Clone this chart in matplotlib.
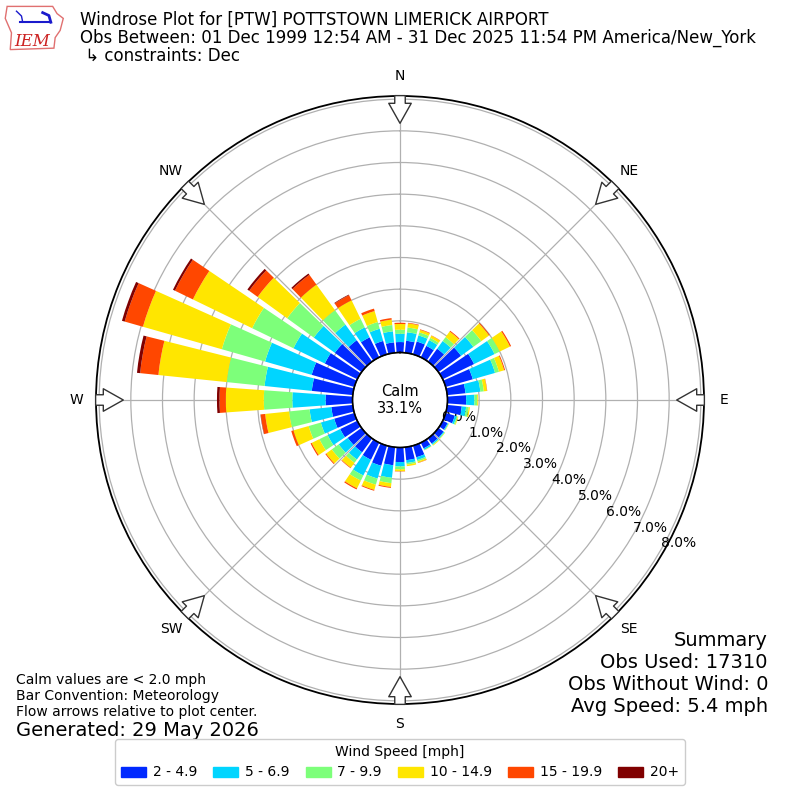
import numpy as np
import matplotlib
matplotlib.use('Agg')
from matplotlib import pyplot as plt
from matplotlib.patches import Patch, Polygon

# wind direction bins (deg from north) and % of obs per speed class
directions = np.arange(0, 360, 10)
speed_labels = ['2 - 4.9', '5 - 6.9', '7 - 9.9', '10 - 14.9', '15 - 19.9', '20+']

spd_2_5 = [0.33, 0.38, 0.42, 0.40, 0.50, 0.88, 1.10, 0.89, 0.58, 0.59, 0.46, 0.30,
           0.17, 0.20, 0.20, 0.20, 0.38, 0.41, 0.46, 0.57, 0.66, 0.60, 0.54, 0.54,
           0.60, 0.66, 0.68, 0.85, 1.30, 1.40, 1.14, 1.04, 0.83, 0.70, 0.44, 0.33]
spd_5_7 = [0.26, 0.27, 0.20, 0.20, 0.30, 0.48, 0.72, 0.73, 0.47, 0.26, 0.14, 0.06,
           0.03, 0.03, 0.04, 0.05, 0.09, 0.09, 0.14, 0.40, 0.42, 0.55, 0.28, 0.35,
           0.44, 0.44, 0.69, 1.05, 1.50, 1.53, 1.10, 0.82, 0.61, 0.35, 0.40, 0.35]
spd_7_10 = [0.13, 0.15, 0.10, 0.08, 0.15, 0.31, 0.18, 0.13, 0.11, 0.09, 0.08, 0.04,
            0.01, 0.02, 0.02, 0.01, 0.05, 0.05, 0.09, 0.17, 0.20, 0.18, 0.13, 0.27,
            0.29, 0.40, 0.65, 0.90, 1.20, 1.42, 1.45, 1.04, 0.56, 0.30, 0.22, 0.20]
spd_10_15 = [0.18, 0.13, 0.08, 0.08, 0.22, 0.30, 0.36, 0.17, 0.10, 0.03, 0.04, 0.02,
             0.01, 0.01, 0.02, 0.01, 0.04, 0.05, 0.06, 0.12, 0.17, 0.27, 0.19, 0.22,
             0.27, 0.50, 0.76, 1.20, 2.17, 2.59, 2.08, 1.15, 1.00, 0.65, 0.36, 0.17]
spd_15_20 = [0.04, 0.02, 0.02, 0.01, 0.03, 0.03, 0.04, 0.03, 0.01, 0.00, 0.00, 0.00,
             0.00, 0.00, 0.00, 0.00, 0.01, 0.00, 0.01, 0.03, 0.03, 0.04, 0.02, 0.03,
             0.04, 0.07, 0.14, 0.20, 0.58, 0.60, 0.63, 0.33, 0.38, 0.18, 0.08, 0.05]
spd_20p = [0.00, 0.00, 0.00, 0.00, 0.00, 0.00, 0.00, 0.00, 0.00, 0.00, 0.00, 0.00,
           0.00, 0.00, 0.00, 0.00, 0.00, 0.00, 0.00, 0.00, 0.00, 0.00, 0.00, 0.00,
           0.00, 0.00, 0.01, 0.08, 0.10, 0.09, 0.07, 0.07, 0.05, 0.02, 0.00, 0.00]
speed_bins = [spd_2_5, spd_5_7, spd_7_10, spd_10_15, spd_15_20, spd_20p]

calm_pct = 33.1
rmax = 8.1
rticks = [0, 1, 2, 3, 4, 5, 6, 7, 8]
compass = ['N', 'NE', 'E', 'SE', 'S', 'SW', 'W', 'NW']

colors = plt.cm.jet(np.arange(1, 7) / 6.)

fig = plt.figure(figsize=(8, 8), dpi=100)
ax = fig.add_axes([0.12, 0.12, 0.76, 0.76], projection='polar')
ax.set_theta_zero_location('N')
ax.set_theta_direction(-1)
ax.set_rorigin(-1.5)
ax.set_ylim(0, rmax)

theta = np.deg2rad(directions)
width = np.deg2rad(8.2)
bottom = np.zeros(len(directions))
for vals, col, lab in zip(speed_bins, colors, speed_labels):
    vals = np.array(vals)
    ax.bar(theta, vals, width=width, bottom=bottom, color=col, label=lab,
           edgecolor='none', zorder=3)
    bottom += vals

ax.set_yticks(rticks)
ax.set_yticklabels(['%.1f%%' % t for t in rticks], fontsize=10)
ax.set_rlabel_position(120)
ax.set_xticks(np.deg2rad(np.arange(0, 360, 45)))
ax.set_xticklabels([])
ax.grid(True, color='#b0b0b0', lw=0.9)
ax.spines['polar'].set_linewidth(1.3)

# calm circle edge
circ = np.linspace(0, 2 * np.pi, 361)
ax.plot(circ, np.zeros_like(circ), color='black', lw=1.2, zorder=4, clip_on=False)

# compass labels and inward flow arrows
for i, lab in enumerate(compass):
    t = np.deg2rad(i * 45)
    ax.text(t, 8.72, lab, ha='center', va='center', fontsize=10, clip_on=False)
    ax.annotate('', xy=(t, 7.15), xytext=(t, 8.2), annotation_clip=False,
                arrowprops=dict(arrowstyle='simple,head_length=0.8,head_width=0.9,tail_width=0.42',
                                mutation_scale=18, fc='white', ec='#333333', lw=1), zorder=5)

ax.text(0, -1.5, 'Calm\n%.1f%%' % calm_pct, ha='center', va='center', fontsize=10.5)

# header
fig.text(0.1, 0.975, 'Windrose Plot for [PTW] POTTSTOWN LIMERICK AIRPORT', fontsize=12, va='center')
fig.text(0.1, 0.9525, 'Obs Between: 01 Dec 1999 12:54 AM - 31 Dec 2025 11:54 PM America/New_York',
         fontsize=12, va='center')
fig.text(0.1, 0.93, ' \u21b3 constraints: Dec', fontsize=12, va='center')

# IEM logo (rough)
lax = fig.add_axes([0.005, 0.935, 0.078, 0.06])
lax.axis('off')
lax.set_xlim(0, 1)
lax.set_ylim(0, 1)
outline = [(0.05, 0.95), (0.78, 0.95), (0.85, 0.8), (0.95, 0.7), (0.9, 0.45), (0.82, 0.3),
           (0.8, 0.08), (0.1, 0.05), (0.12, 0.4), (0.02, 0.7)]
lax.add_patch(Polygon(outline, closed=True, fill=False, ec='#e07070', lw=1))
lax.plot([0.25, 0.75], [0.62, 0.62], color='#1a1acc', lw=1.5)
lax.plot([0.2, 0.28, 0.3], [0.85, 0.75, 0.62], color='#1a1acc', lw=1)
lax.plot([0.62, 0.72, 0.75], [0.82, 0.76, 0.62], color='#1a1acc', lw=2)
lax.text(0.45, 0.22, 'IEM', color='#cc2222', fontsize=12, family='DejaVu Serif',
         style='italic', ha='center', va='center')

# notes
fig.text(0.02, 0.15, 'Calm values are < 2.0 mph', fontsize=10, va='center')
fig.text(0.02, 0.13, 'Bar Convention: Meteorology', fontsize=10, va='center')
fig.text(0.02, 0.11, 'Flow arrows relative to plot center.', fontsize=10, va='center')
fig.text(0.02, 0.0875, 'Generated: 29 May 2026', fontsize=14, va='center')

summary = ['Summary', 'Obs Used: 17310', 'Obs Without Wind: 0', 'Avg Speed: 5.4 mph']
for i, s in enumerate(summary):
    fig.text(0.96, 0.2 - i * 0.0275, s, fontsize=14, ha='right', va='center')

handles = [Patch(color=c) for c in colors]
fig.legend(handles, speed_labels, loc='lower center', bbox_to_anchor=(0.5, 0.01),
           ncol=6, title='Wind Speed [mph]', fontsize=10, title_fontsize=10,
           handlelength=1.8, handletextpad=0.5, columnspacing=1.15, framealpha=1.0)

plt.savefig('out.png', dpi=100)
